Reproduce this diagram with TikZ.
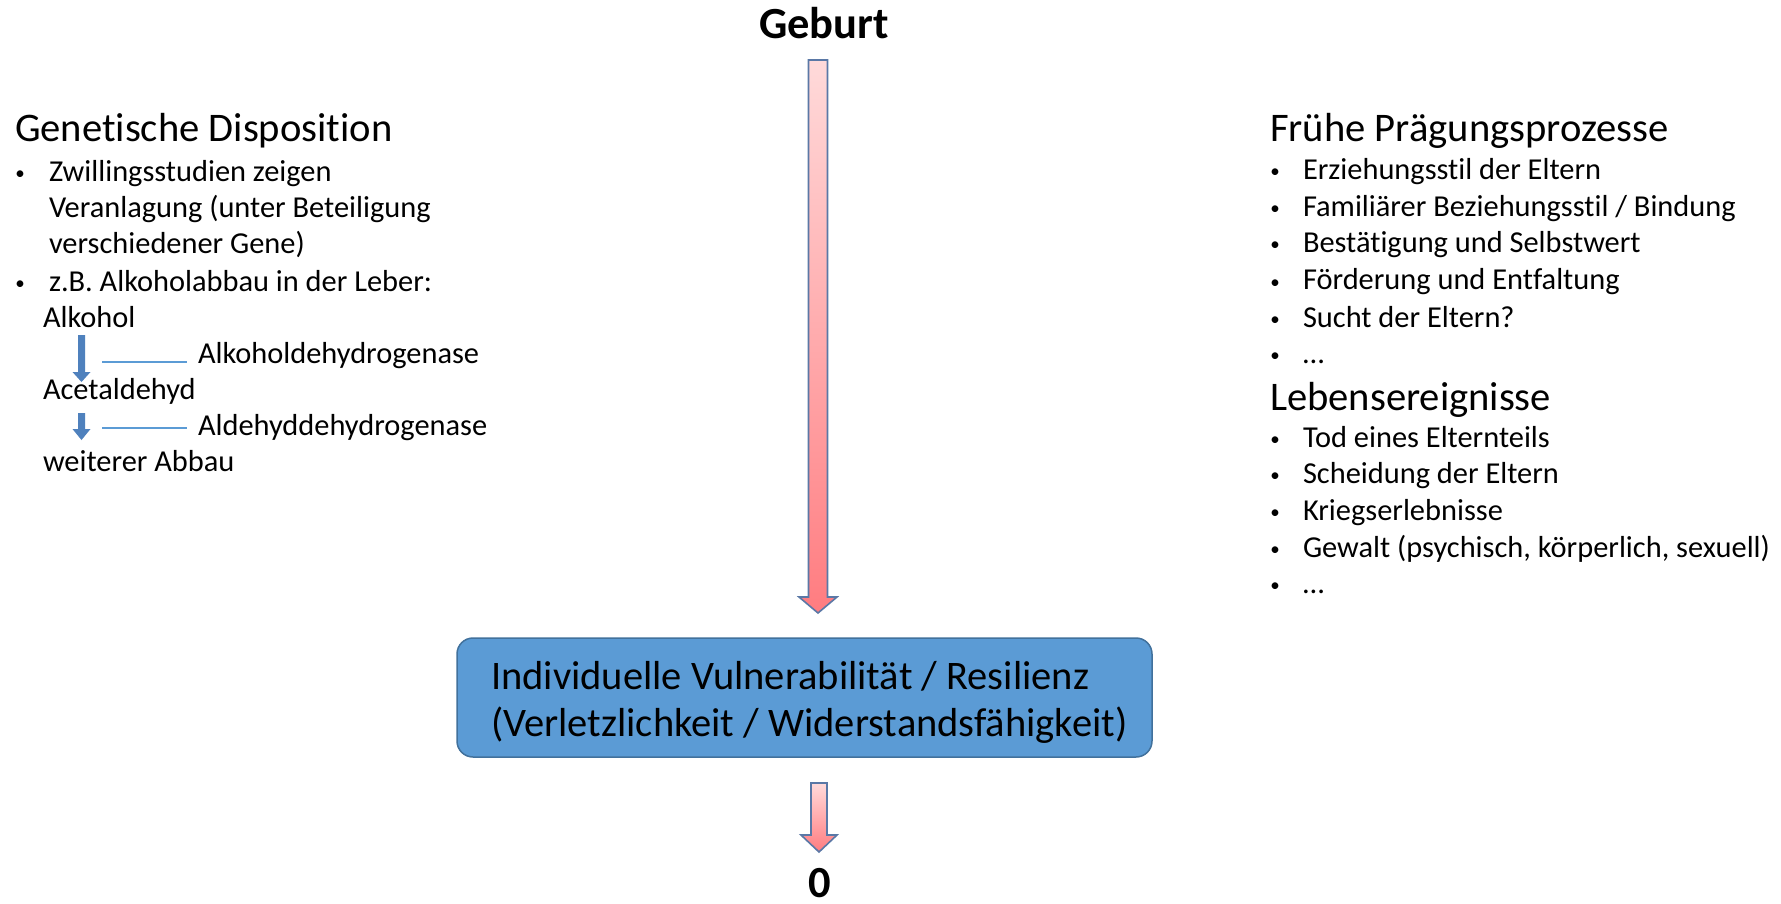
\documentclass[tikz,border=0pt]{standalone}
\usepackage{fontspec}
\setmainfont[Ligatures={NoCommon}]{Carlito}
\usetikzlibrary{calc}

\definecolor{boxfill}{HTML}{5B9BD5}
\definecolor{boxline}{HTML}{41719C}
\definecolor{pinktop}{HTML}{FFDADA}
\definecolor{pinkbot}{HTML}{FF7C80}
\definecolor{arrline}{HTML}{5A78A6}
\definecolor{stepblue}{HTML}{4F81BD}
\definecolor{enzblue}{HTML}{5B9BD5}

% block arrow: style, from, to, half shaft width, half head width, head length
\newcommand\blockarrow[6]{%
  \path[#1] let \p1=(#2), \p2=(#3) in
    (\x1-#4pt,\y1) -- (\x1+#4pt,\y1) -- (\x1+#4pt,\y2+#6pt) -- (\x1+#5pt,\y2+#6pt)
    -- (\x1,\y2) -- (\x1-#5pt,\y2+#6pt) -- (\x1-#4pt,\y2+#6pt) -- cycle;}

\begin{document}
\begin{tikzpicture}[x=1pt,y=-1pt,
  txt/.style={anchor=base west,inner sep=0pt,outer sep=0pt,font=\fontsize{30.4}{37}\selectfont},
  bul/.style={anchor=base,inner sep=0pt,outer sep=0pt,yshift=2pt,font=\fontsize{19}{22}\selectfont},
  headline/.style={anchor=base west,inner sep=0pt,outer sep=0pt,font=\fontsize{40.6}{49}\selectfont},
  boldlabel/.style={anchor=base,inner sep=0pt,outer sep=0pt,font=\bfseries\fontsize{44.5}{52}\selectfont},
  vbox/.style={draw=boxline,line width=1.5pt,fill=boxfill,rounded corners=16pt,
    minimum width=695pt,minimum height=119pt,inner sep=0pt},
  boxtext/.style={anchor=base west,inner sep=0pt,outer sep=0pt,align=left,
    font=\fontsize{40.5}{47}\selectfont},
  pinkarrow/.style={top color=pinktop,bottom color=pinkbot,draw=arrline,line width=1.6pt,line join=miter},
  steparrow/.style={fill=stepblue,draw=none},
  enzline/.style={draw=enzblue,line width=1.3pt}]
\useasboundingbox (0,0) rectangle (1781,904);
\fill[white] (0,0) rectangle (1781,904);

% top label, central box, bottom label
\node[boldlabel] (geburt) at (824,39) {Geburt};
\node[vbox] (box) at (804.5,697.5) {};
% base anchor of a two-line node sits on the second line
\node[boxtext] (boxlbl) at (491,736) {Individuelle Vulnerabilität / Resilienz\\(Verletzlichkeit / Widerstandsfähigkeit)};
\node[boldlabel] (zero) at (820,897) {0};

% the two pink block arrows
\coordinate (m1top) at (818,60);
\coordinate (m1tip) at (818,613);
\blockarrow{pinkarrow}{m1top}{m1tip}{9.5}{19}{16}
\coordinate (m2top) at (819,783);
\coordinate (m2tip) at (819,852);
\blockarrow{pinkarrow}{m2top}{m2tip}{8}{18}{17}

% left column: genetic disposition
\node[headline] (gen) at (15,142) {Genetische Disposition};
\node[bul] (gb1) at (20,182) {•};
\node[txt] (g1) at (49,182) {Zwillingsstudien zeigen};
\node[txt] (g2) at (49,218) {Veranlagung (unter Beteiligung};
\node[txt] (g3) at (49,254) {verschiedener Gene)};
\node[bul] (gb2) at (20,291) {•};
\node[txt] (g4) at (49,291) {z.B. Alkoholabbau in der Leber:};
\node[txt] (alk) at (43,327) {Alkohol};
\node[txt] (enz1) at (198,363) {Alkoholdehydrogenase};
\node[txt] (acet) at (43,399) {Acetaldehyd};
\node[txt] (enz2) at (198,435) {Aldehyddehydrogenase};
\node[txt] (abbau) at (43,471) {weiterer Abbau};

% metabolic steps
\coordinate (s1top) at (81.5,335);
\coordinate (s1tip) at (81.5,382);
\blockarrow{steparrow}{s1top}{s1tip}{3.5}{9}{10}
\coordinate (s2top) at (81.5,413);
\coordinate (s2tip) at (81.5,440);
\blockarrow{steparrow}{s2top}{s2tip}{3.5}{9}{11}
\draw[enzline] ($(enz1.base west)+(-96,-1)$) -- ($(enz1.base west)+(-11,-1)$);
\draw[enzline] ($(enz2.base west)+(-96,-7)$) -- ($(enz2.base west)+(-11,-7)$);

% right column: early imprinting and life events
\node[headline] (fp) at (1270,142) {Frühe Prägungsprozesse};
\node[bul] (rb1) at (1275,180) {•};
\node[txt] (r1) at (1303,180) {Erziehungsstil der Eltern};
\node[bul] (rb2) at (1275,217) {•};
\node[txt] (r2) at (1303,217) {Familiärer Beziehungsstil / Bindung};
\node[bul] (rb3) at (1275,253) {•};
\node[txt] (r3) at (1303,253) {Bestätigung und Selbstwert};
\node[bul] (rb4) at (1275,290) {•};
\node[txt] (r4) at (1303,290) {Förderung und Entfaltung};
\node[bul] (rb5) at (1275,327) {•};
\node[txt] (r5) at (1303,327) {Sucht der Eltern?};
\node[bul] (rb6) at (1275,363) {•};
\node[txt] (r6) at (1303,363) {…};

\node[headline] (le) at (1270,410) {Lebensereignisse};
\node[bul] (lb1) at (1275,447) {•};
\node[txt] (l1) at (1303,447) {Tod eines Elternteils};
\node[bul] (lb2) at (1275,483) {•};
\node[txt] (l2) at (1303,483) {Scheidung der Eltern};
\node[bul] (lb3) at (1275,520) {•};
\node[txt] (l3) at (1303,520) {Kriegserlebnisse};
\node[bul] (lb4) at (1275,557) {•};
\node[txt] (l4) at (1303,557) {Gewalt (psychisch, körperlich, sexuell)};
\node[bul] (lb5) at (1275,593) {•};
\node[txt] (l5) at (1303,593) {…};
\end{tikzpicture}
\end{document}
